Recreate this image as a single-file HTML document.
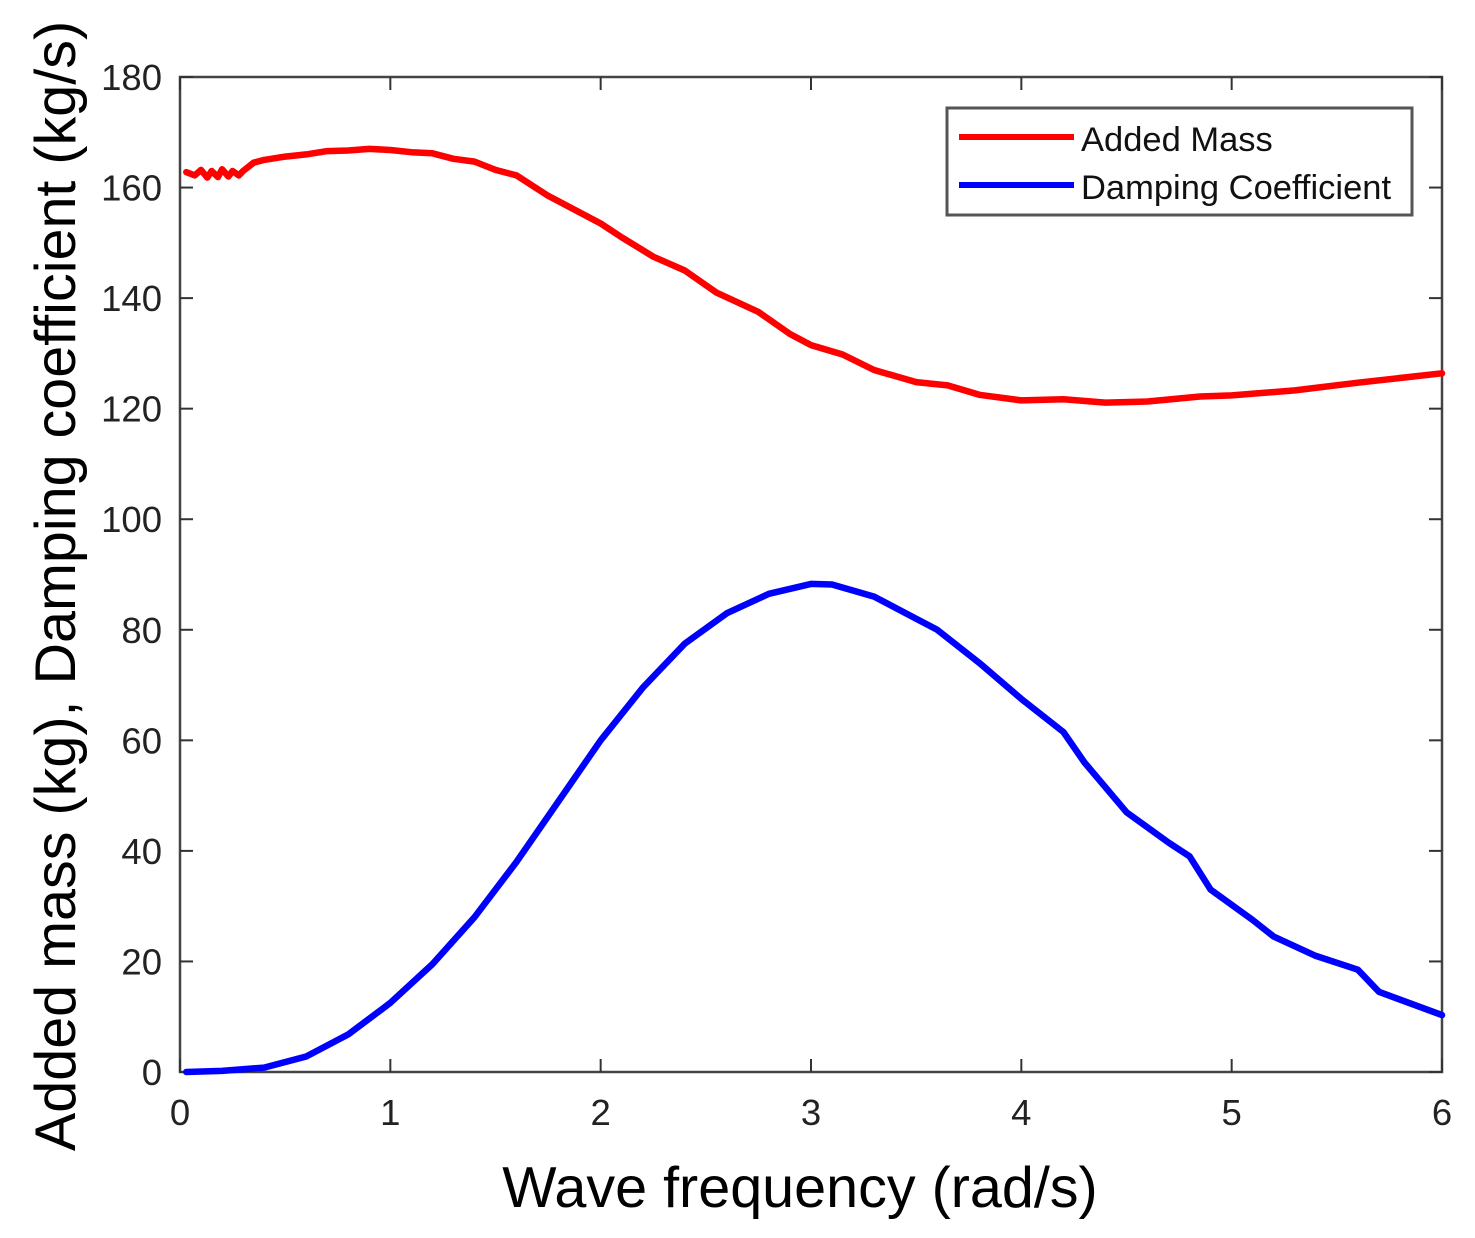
<!DOCTYPE html>
<html><head><meta charset="utf-8"><style>
html,body{margin:0;padding:0;background:#fff;}
svg{display:block;font-family:"Liberation Sans",Arial,sans-serif;}
</style></head><body>
<svg id="chart" width="1475" height="1238" viewBox="0 0 1475 1238">
<g id="axes"></g>
<g id="series"></g>
<g id="legend">
<rect x="947" y="108" width="465" height="107" fill="#fff" stroke="#555" stroke-width="3"/>
<line x1="959" y1="137" x2="1074" y2="137" stroke="#ff0000" stroke-width="6"/>
<text x="1081" y="151" font-size="34.5" fill="#111">Added Mass</text>
<line x1="959" y1="185" x2="1074" y2="185" stroke="#0000ff" stroke-width="6"/>
<text x="1081" y="199" font-size="34.5" fill="#111">Damping Coefficient</text>
</g>
<text x="800" y="1207" font-size="57.5" text-anchor="middle" fill="#000">Wave frequency (rad/s)</text>
<text transform="translate(75,586) rotate(-90)" font-size="57.5" text-anchor="middle" fill="#000">Added mass (kg), Damping coefficient (kg/s)</text>
</svg>
<script>
const xTicks=[0,1,2,3,4,5,6];
const yTicks=[0,20,40,60,80,100,120,140,160,180];
const addedMassX=[0.03,0.07,0.1,0.13,0.15,0.18,0.2,0.23,0.25,0.28,0.3,0.35,0.4,0.5,0.6,0.7,0.8,0.9,1.0,1.1,1.2,1.3,1.4,1.5,1.6,1.75,1.9,2.0,2.1,2.25,2.4,2.55,2.75,2.9,3.0,3.15,3.3,3.5,3.65,3.8,4.0,4.2,4.4,4.6,4.85,5.0,5.3,5.6,6.0];
const addedMassY=[162.8,162.2,163.2,161.8,163.0,161.9,163.3,162.0,163.0,162.2,163.0,164.5,165.0,165.6,166.0,166.6,166.7,167.0,166.8,166.4,166.2,165.2,164.7,163.2,162.2,158.5,155.5,153.5,151.0,147.5,145.0,141.0,137.5,133.5,131.5,129.8,127.0,124.8,124.2,122.5,121.5,121.7,121.1,121.3,122.2,122.4,123.3,124.7,126.4];
const dampingX=[0.03,0.2,0.4,0.6,0.8,1.0,1.2,1.4,1.6,1.8,2.0,2.2,2.4,2.6,2.8,3.0,3.1,3.3,3.5,3.6,3.8,4.0,4.2,4.3,4.5,4.7,4.8,4.9,5.1,5.2,5.4,5.6,5.7,6.0];
const dampingY=[0,0.2,0.8,2.8,6.8,12.5,19.5,28,38,49,60,69.5,77.5,83,86.5,88.3,88.2,86,82,80,74,67.5,61.5,56,47,41.5,39,33,27.5,24.5,21,18.5,14.5,10.3];

const L=180,R=1442,T=77,B=1072;
const sx=v=>L+(v-0)/(6-0)*(R-L);
const sy=v=>B-(v-0)/(180-0)*(B-T);
const NS="http://www.w3.org/2000/svg";
const axes=document.getElementById('axes');
const series=document.getElementById('series');
function mk(tag,attrs,parent){const e=document.createElementNS(NS,tag);for(const k in attrs)e.setAttribute(k,attrs[k]);parent.appendChild(e);return e;}

const frame=mk('rect',{x:L,y:T,width:R-L,height:B-T,fill:'none',stroke:'#444','stroke-width':2.5},axes);


xTicks.forEach(t=>{
  const x=sx(t);
  const a=mk('line',{x1:x,y1:B,x2:x,y2:B-13,stroke:'#333','stroke-width':2},axes);
  
  
  const b=mk('line',{x1:x,y1:T,x2:x,y2:T+13,stroke:'#333','stroke-width':2},axes);
  
  
  const tx=mk('text',{x:x,y:B+53,'font-size':36.5,'text-anchor':'middle',fill:'#222'},axes);
  tx.textContent=t;
  
  
});
yTicks.forEach(t=>{
  const y=sy(t);
  const a=mk('line',{x1:L,y1:y,x2:L+13,y2:y,stroke:'#333','stroke-width':2},axes);
  
  
  const b=mk('line',{x1:R,y1:y,x2:R-13,y2:y,stroke:'#333','stroke-width':2},axes);
  
  
  const tx=mk('text',{x:L-18,y:y+13,'font-size':36.5,'text-anchor':'end',fill:'#222'},axes);
  tx.textContent=t;
  
  
});
function line(xs,ys,color,name){
  const d=xs.map((x,i)=>(i?'L':'M')+sx(x).toFixed(1)+','+sy(ys[i]).toFixed(1)).join('');
  const p=mk('path',{d:d,fill:'none',stroke:color,'stroke-width':6.5,'stroke-linejoin':'round','stroke-linecap':'round'},series);
  
  
}
line(addedMassX,addedMassY,'#ff0000','added-mass-line');
line(dampingX,dampingY,'#0000ff','damping-coefficient-line');
</script>
</body></html>
